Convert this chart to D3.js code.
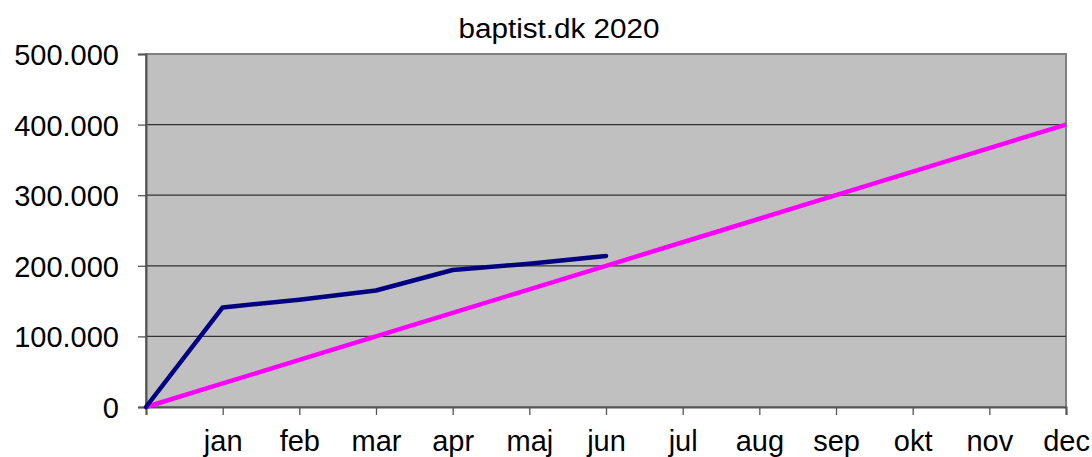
<!DOCTYPE html>
<html>
<head>
<meta charset="utf-8">
<script src="https://cdn.jsdelivr.net/npm/d3@7"></script>
<style>
  body { margin: 0; background: #fff; }
  text { font-family: "Liberation Sans", Arial, sans-serif; fill: #000; }
</style>
</head>
<body>
<svg id="chart" width="1092" height="457"></svg>
<script>
// months, first slot is the start point (no label)
var months = ["", "jan", "feb", "mar", "apr", "maj", "jun", "jul", "aug", "sep", "okt", "nov", "dec"];
var actual = [0, 141000, 152000, 165000, 194000, 203000, 214000];
var target = [0, 33333, 66667, 100000, 133333, 166667, 200000, 233333, 266667, 300000, 333333, 366667, 400000];
var yTicks = [0, 100000, 200000, 300000, 400000, 500000];

var svg = d3.select("#chart");
var margin = {top: 54, right: 26, bottom: 50, left: 146};
var width = 1092 - margin.left - margin.right,
    height = 457 - margin.top - margin.bottom;

var x = d3.scaleLinear().domain([0, months.length - 1]).range([0, width]);
var y = d3.scaleLinear().domain([0, 500000]).range([height, 0]);

var fmt = function(d) { return d == 0 ? "0" : d3.format(",")(d).replace(/,/g, "."); };

var g = svg.append("g").attr("transform", "translate(" + margin.left + "," + margin.top + ")");

// plot background
g.append("rect")
  .attr("width", width).attr("height", height)
  .attr("fill", "#c0c0c0")
  .attr("stroke", "#808080").attr("stroke-width", 2);

// gridlines
g.selectAll(".grid").data(yTicks.slice(1, -1)).enter().append("line")
  .attr("x1", 0).attr("x2", width)
  .attr("y1", function(d) { return y(d); }).attr("y2", function(d) { return y(d); })
  .attr("stroke", "#333").attr("stroke-width", 1.3);

// y axis
var yAxis = g.append("g")
  .call(d3.axisLeft(y).tickValues(yTicks).tickFormat(fmt).tickSize(8).tickPadding(19));
yAxis.select(".domain").attr("stroke", "#555").attr("stroke-width", 2);
yAxis.selectAll(".tick line").attr("stroke", "#555").attr("stroke-width", 1.3);
yAxis.selectAll(".tick text").style("font-size", "29px").attr("dy", "0.36em");

// x axis
var xAxis = g.append("g")
  .attr("transform", "translate(0," + height + ")")
  .call(d3.axisBottom(x).tickValues(d3.range(months.length)).tickFormat(function(i) { return months[i]; }).tickSize(8).tickPadding(15));
xAxis.select(".domain").attr("stroke", "#555").attr("stroke-width", 2);
xAxis.selectAll(".tick line").attr("stroke", "#555").attr("stroke-width", 1.3);
xAxis.selectAll(".tick text").style("font-size", "29px").attr("dy", "0.71em");

var line = d3.line()
  .x(function(d, i) { return x(i); })
  .y(function(d) { return y(d); });

g.append("path").datum(target)
  .attr("d", line).attr("fill", "none")
  .attr("stroke", "#ff00ff").attr("stroke-width", 4.5);

g.append("path").datum(actual)
  .attr("d", line).attr("fill", "none")
  .attr("stroke", "#000080").attr("stroke-width", 4.5)
  .attr("stroke-linecap", "round").attr("stroke-linejoin", "round");

// title
svg.append("text")
  .attr("x", 559).attr("y", 38)
  .attr("text-anchor", "middle")
  .style("font-size", "27px")
  .attr("textLength", 201).attr("lengthAdjust", "spacingAndGlyphs")
  .text("baptist.dk 2020");
</script>
</body>
</html>
